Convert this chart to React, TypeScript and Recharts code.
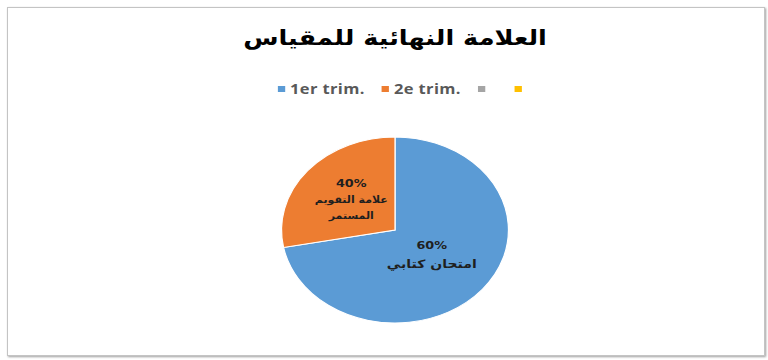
import { Cell, Legend, Pie, PieChart } from 'recharts';

const sliceNames = ['امتحان كتابي', 'علامة التقويم المستمر'];
const sliceValues = [72, 28];
const sliceLabels = ['60%', '40%'];
const sliceLines = [['امتحان كتابي'], ['علامة التقويم', 'المستمر']];
const sliceColors = ['#5B9BD5', '#ED7D31'];

const legendNames = ['1er trim.', '2e trim.', '', ''];
const legendColors = ['#5B9BD5', '#ED7D31', '#A5A5A5', '#FFC000'];

const title = 'العلامة النهائية للمقياس';

const data = sliceNames.map((name, i) => ({ name, value: sliceValues[i] }));

const CX = 395;
const CY = 230;
const LEGEND_H = 20;
const R = 93;
const STRETCH = 1.22;
const RAD = Math.PI / 180;

// label placement per slice: distance from centre and line spacing
const labelDist = [0.42, 0.5];
const labelStep = [19, 16];
const arabicFont = ["'DejaVu Sans', sans-serif", "'DejaVu Sans Condensed', 'DejaVu Sans', sans-serif"];
const arabicSize = [11.5, 10];

function SliceLabel(props: any) {
  const { cx, cy, midAngle, outerRadius, index } = props;
  const r = outerRadius * labelDist[index];
  const x = cx + r * Math.cos(-midAngle * RAD);
  const y = cy + r * Math.sin(-midAngle * RAD);
  const lines = [sliceLabels[index], ...sliceLines[index]];
  const step = labelStep[index];
  const top = y - ((lines.length - 1) * step) / 2;
  return (
    <text x={x} y={top} textAnchor="middle" fill="#1f1f1f" fontWeight="bold">
      {lines.map((ln, i) => (
        <tspan
          key={i}
          x={x}
          y={top + i * step}
          dominantBaseline="middle"
          fontSize={i === 0 ? 10.5 : arabicSize[index]}
          fontFamily={i === 0 ? "'DejaVu Sans', sans-serif" : arabicFont[index]}
        >
          {ln}
        </tspan>
      ))}
    </text>
  );
}

function LegendRow() {
  return (
    <div
      style={{
        display: 'flex',
        justifyContent: 'center',
        alignItems: 'center',
        height: LEGEND_H,
        paddingLeft: 40,
        gap: 14,
        fontFamily: "'Open Sans', sans-serif",
        fontSize: 13.5,
        fontWeight: 700,
        letterSpacing: 0.3,
        color: '#595959',
      }}
    >
      {legendNames.map((name, i) => (
        <div key={i} style={{ display: 'flex', alignItems: 'center', gap: 4 }}>
          <span style={{ width: 6, height: 6, background: legendColors[i], display: 'inline-block' }} />
          <span style={{ minWidth: name ? 0 : 6 }}>{name}</span>
        </div>
      ))}
    </div>
  );
}

export default function App() {
  return (
    <div style={{ position: 'fixed', left: 0, top: 0, width: 768, height: 360, background: '#fff', overflow: 'hidden' }}>
      <div
        style={{
          position: 'absolute',
          left: 7,
          top: 7,
          width: 756,
          height: 347,
          border: '1px solid #c4c4c4',
          boxShadow: '1px 1px 2px #a0a0a0',
        }}
      />
      <div
        style={{
          position: 'absolute',
          left: 0,
          top: 0,
          width: 768,
          height: 360,
          transform: `scaleX(${STRETCH})`,
          transformOrigin: `${CX}px 0px`,
        }}
      >
        <div
          style={{
            position: 'absolute',
            top: 26,
            left: 0,
            width: 790,
            textAlign: 'center',
            fontFamily: "'DejaVu Sans', sans-serif",
            fontWeight: 'bold',
            fontSize: 21,
            color: '#000',
            direction: 'rtl',
          }}
        >
          {title}
        </div>
        <PieChart width={768} height={360} margin={{ top: 0, right: 0, bottom: 0, left: 0 }}>
          <Legend verticalAlign="top" content={() => <LegendRow />} wrapperStyle={{ top: 79 }} />
          <Pie
            data={data}
            dataKey="value"
            nameKey="name"
            cx={CX}
            cy={CY - LEGEND_H}
            outerRadius={R}
            startAngle={90}
            endAngle={-270}
            stroke="#ffffff"
            strokeWidth={1}
            label={SliceLabel}
            labelLine={false}
            isAnimationActive={false}
          >
            {data.map((d, i) => (
              <Cell key={d.name} fill={sliceColors[i]} />
            ))}
          </Pie>
        </PieChart>
      </div>
    </div>
  );
}
